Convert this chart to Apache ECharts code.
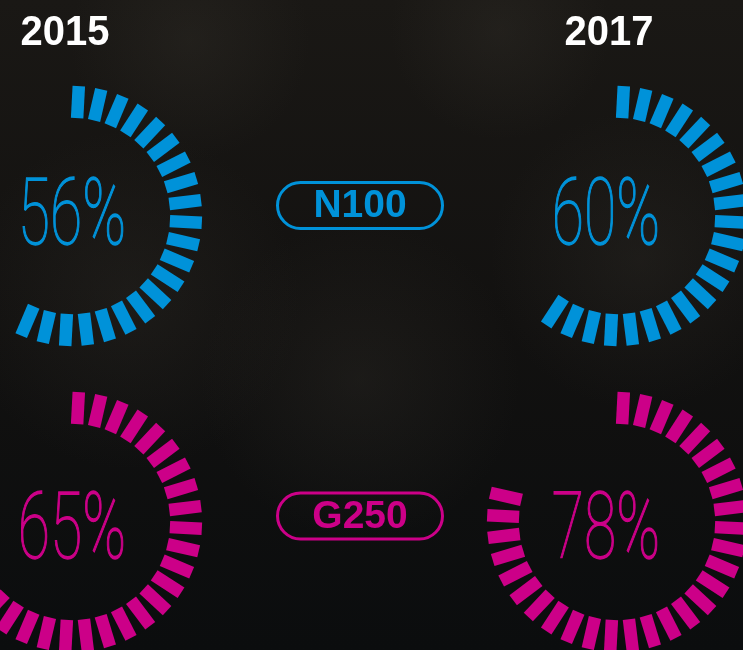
<!DOCTYPE html>
<html>
<head>
<meta charset="utf-8">
<title>N100 / G250</title>
<script src="https://cdn.jsdelivr.net/npm/echarts@6/dist/echarts.min.js"></script>
<style>
  html, body { margin: 0; padding: 0; background: #0f0f0e; }
  #chart { width: 743px; height: 650px; }
</style>
</head>
<body>
<div id="chart"></div>
<script>
// data
const years = ["2015", "2017"];
const groups = ["N100", "G250"];
const values2015 = [56, 65];
const values2017 = [60, 78];
const groupColors = ["#0092d9", "#cc0088"];

const chart = echarts.init(document.getElementById("chart"));

// ring centres (px) by column (year) and row (group)
const colX = [72, 617];
const rowY = [216, 522];
const textX = [72, 606];
const textY = [221, 535];

function ring(cx, cy, value, color) {
  return {
    type: "gauge",
    center: [cx, cy],
    radius: 130,
    startAngle: 87,
    endAngle: -273,
    min: 0,
    max: 100,
    splitNumber: 1,
    axisLine: {
      show: false,
      lineStyle: { width: 0, color: [[value / 100, color], [1, "rgba(0,0,0,0)"]] },
    },
    progress: { show: false },
    pointer: { show: false },
    anchor: { show: false },
    splitLine: { show: false },
    axisLabel: { show: false },
    axisTick: {
      show: true,
      splitNumber: 36, // 36 segments per full turn
      length: 32,
      distance: 0,
      lineStyle: { width: 12.5, color: "auto" },
    },
    title: { show: false },
    detail: { show: false },
    silent: true,
    data: [{ value: value }],
  };
}

const series = [];
const graphics = [];

// background glows (texture)
graphics.push({
  type: "rect", z: -10,
  shape: { x: 0, y: 0, width: 743, height: 650 },
  style: {
    fill: new echarts.graphic.LinearGradient(0, 0, 0, 1, [
      { offset: 0, color: "#1a1815" },
      { offset: 0.5, color: "#121110" },
      { offset: 1, color: "#0b0d0e" },
    ]),
  },
});
[[190, 40, 120], [500, 30, 110], [130, 300, 170], [640, 260, 150], [360, 380, 160]].forEach((g) => {
  graphics.push({
    type: "circle", z: -9,
    shape: { cx: g[0], cy: g[1], r: g[2] },
    style: {
      fill: new echarts.graphic.RadialGradient(0.5, 0.5, 0.5, [
        { offset: 0, color: "rgba(70,66,58,0.2)" },
        { offset: 1, color: "rgba(70,66,58,0)" },
      ]),
    },
  });
});

// year headings
years.forEach((y, c) => {
  graphics.push({
    type: "text",
    x: c === 0 ? 65 : 609,
    y: 33,
    scaleX: 0.93,
    style: {
      text: y,
      fill: "#ffffff",
      font: "bold 43px 'Liberation Sans', Arial, sans-serif",
      textAlign: "center",
      textVerticalAlign: "middle",
    },
  });
});

const yearValues = [values2015, values2017];
groups.forEach((name, r) => {
  const color = groupColors[r];
  yearValues.forEach((vals, c) => {
    series.push(ring(colX[c], rowY[r], vals[r], color));
    graphics.push({
      type: "text",
      x: textX[c],
      y: textY[r],
      scaleX: 0.64,
      style: {
        text: vals[r] + "%",
        fill: color,
        stroke: color,
        lineWidth: 1.3,
        font: "100 92px Roboto, sans-serif",
        textAlign: "center",
        textVerticalAlign: "middle",
      },
    });
  });
  // pill label
  const ly = r === 0 ? 205.5 : 516;
  graphics.push({
    type: "rect",
    shape: { x: 277.5, y: ly - 23, width: 165, height: 46, r: 23 },
    style: { fill: "none", stroke: color, lineWidth: 3 },
  });
  graphics.push({
    type: "text",
    x: 360,
    y: ly + 1,
    style: {
      text: name,
      fill: color,
      font: "bold 39px 'Liberation Sans', Arial, sans-serif",
      textAlign: "center",
      textVerticalAlign: "middle",
    },
  });
});

chart.setOption({
  backgroundColor: "#121110",
  animation: false,
  graphic: graphics,
  series: series,
});
</script>
</body>
</html>
